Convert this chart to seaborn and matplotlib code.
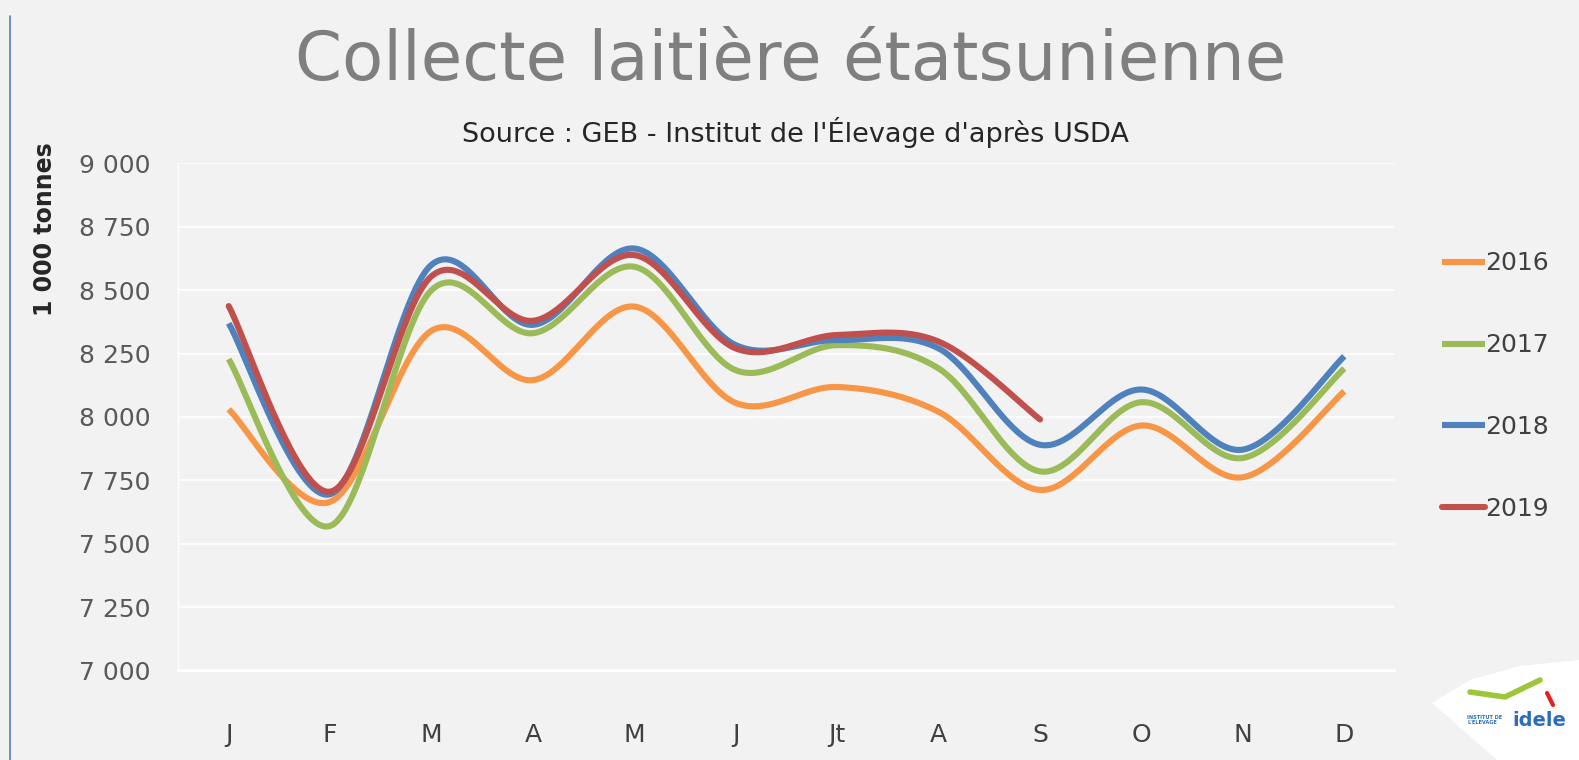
import numpy as np
import pandas as pd
import matplotlib
matplotlib.use("Agg")
import matplotlib.pyplot as plt
import seaborn as sns
from matplotlib.patches import Polygon
from matplotlib.lines import Line2D
from matplotlib.ticker import FuncFormatter, FixedLocator

months = ["J", "F", "M", "A", "M", "J", "Jt", "A", "S", "O", "N", "D"]
years = ["2016", "2017", "2018", "2019"]
v2016 = [8030, 7665, 8340, 8145, 8435, 8055, 8118, 8020, 7712, 7966, 7762, 8101]
v2017 = [8228, 7570, 8500, 8330, 8592, 8184, 8283, 8191, 7785, 8058, 7838, 8191]
v2018 = [8369, 7695, 8600, 8363, 8664, 8283, 8303, 8270, 7890, 8108, 7871, 8239]
v2019 = [8437, 7705, 8555, 8379, 8638, 8270, 8323, 8297, 7990]
series = {"2016": v2016, "2017": v2017, "2018": v2018, "2019": v2019}
colors = {"2016": "#F79646", "2017": "#9BBB59", "2018": "#4F81BD", "2019": "#C0504D"}
yticks = [7000, 7250, 7500, 7750, 8000, 8250, 8500, 8750, 9000]


def smooth(xs, ys, n=40):
    """Excel-like smoothed line: Bezier segments with Catmull-Rom control points."""
    xs = np.asarray(xs, float)
    ys = np.asarray(ys, float)
    P = np.column_stack([xs, ys])
    out = []
    for i in range(len(P) - 1):
        p0 = P[i - 1] if i > 0 else P[i]
        p1 = P[i]
        p2 = P[i + 1]
        p3 = P[i + 2] if i + 2 < len(P) else P[i + 1]
        c1 = p1 + (p2 - p0) / 6.0
        c2 = p2 - (p3 - p1) / 6.0
        t = np.linspace(0, 1, n, endpoint=(i == len(P) - 2))[:, None]
        b = ((1 - t) ** 3) * p1 + 3 * ((1 - t) ** 2) * t * c1 + 3 * (1 - t) * t ** 2 * c2 + t ** 3 * p2
        out.append(b)
    out = np.vstack(out)
    return out[:, 0], out[:, 1]


rows = []
for y in years:
    vals = series[y]
    sx, sy = smooth(np.arange(len(vals)), vals)
    for k, (a, b) in enumerate(zip(sx, sy)):
        rows.append({"year": y, "x": a, "v": b, "order": k})
df = pd.DataFrame(rows)

sns.set_theme(style="white")
plt.rcParams["font.family"] = ["DejaVu Sans"]

BG = "#F2F2F2"
fig = plt.figure(figsize=(15.79, 7.60), dpi=100, facecolor=BG)
ax = fig.add_axes([178 / 1579, 1 - 670.5 / 760, (1395 - 178) / 1579, (670.5 - 163.3) / 760])
ax.set_facecolor(BG)

for y in years:
    d = df[df.year == y]
    sns.lineplot(data=d, x="x", y="v", sort=False, ax=ax, color=colors[y], lw=4.4,
                 legend=False, estimator=None,
                 solid_capstyle="round" if y == "2019" else "butt")

ax.set_xlim(-0.5, 11.5)
ax.set_ylim(7000, 9000)
ax.yaxis.set_major_locator(FixedLocator(yticks))
ax.yaxis.set_major_formatter(FuncFormatter(lambda v, p: f"{int(v):,}".replace(",", " ")))
ax.set_xticks(range(12))
ax.set_xticklabels(months)
ax.set_xticks(np.arange(-0.5, 12, 1), minor=True)
ax.tick_params(axis="x", which="major", length=0, pad=38, labelsize=18, labelcolor="#404040")
ax.tick_params(axis="x", which="minor", length=9, width=1.2, color="white", direction="out")
ax.tick_params(axis="y", length=0, pad=20, labelsize=18, labelcolor="#595959")
ax.grid(axis="y", color="white", lw=1.2)
ax.set_axisbelow(True)
for s in ["top", "right"]:
    ax.spines[s].set_visible(False)
ax.spines["bottom"].set_color("white")
ax.spines["bottom"].set_linewidth(1.5)
ax.spines["left"].set_color("white")
ax.spines["left"].set_linewidth(1.0)
ax.set_xlabel("")
ax.set_ylabel("")

fig.text(45 / 1579, 1 - 229 / 760, "1 000 tonnes", rotation=90, ha="center", va="center",
         fontsize=17, fontweight="bold", color="#262626")

fig.text(791 / 1579, 1 - 61 / 760, "Collecte laitière étatsunienne", ha="center", va="center",
         fontsize=48.5, color="#7F7F7F")
fig.text(795 / 1579, 1 - 133 / 760, "Source : GEB - Institut de l'Élevage d'après USDA",
         ha="center", va="center", fontsize=19.5, color="#262626")

handles = [Line2D([0], [0], color=colors[y], lw=4.4,
                  solid_capstyle="round" if y == "2019" else "butt") for y in years]
leg = fig.legend(handles, years, loc="upper left", bbox_to_anchor=(1419 / 1579, 1 - 229 / 760),
                 frameon=False, fontsize=18, handlelength=1.75, handletextpad=0.0,
                 labelspacing=2.31, labelcolor="#404040")

# slide border
fig.add_artist(Line2D([9.5 / 1579, 9.5 / 1579], [0, 1 - 16 / 760], transform=fig.transFigure,
                      color="#4F81BD", lw=1.2))

# logo (decoration)
blob = Polygon([(1432 / 1579, 1 - 703 / 760), (1470 / 1579, 1 - 680 / 760), (1520 / 1579, 1 - 666 / 760),
                (1579 / 1579, 1 - 660 / 760), (1579 / 1579, 0), (1497 / 1579, 0)],
               closed=True, transform=fig.transFigure, facecolor="white", edgecolor="none")
fig.add_artist(blob)
fig.text(1467 / 1579, 1 - 720 / 760, "INSTITUT DE\nL'ELEVAGE", fontsize=3.6, fontweight="bold",
         color="#2A6EBB", ha="left", va="center", linespacing=1.1)
fig.text(1512 / 1579, 1 - 720 / 760, "idele", fontsize=14, fontweight="bold",
         color="#2A6EBB", ha="left", va="center")
fig.add_artist(Line2D([1470 / 1579, 1505 / 1579, 1540 / 1579], [1 - 692 / 760, 1 - 697 / 760, 1 - 680 / 760],
                      transform=fig.transFigure, color="#9DC63B", lw=4, solid_capstyle="round"))
fig.add_artist(Line2D([1547 / 1579, 1553 / 1579], [1 - 693 / 760, 1 - 705 / 760],
                      transform=fig.transFigure, color="#E2231A", lw=3, solid_capstyle="round"))

fig.savefig("out.png", dpi=100, facecolor=BG)
